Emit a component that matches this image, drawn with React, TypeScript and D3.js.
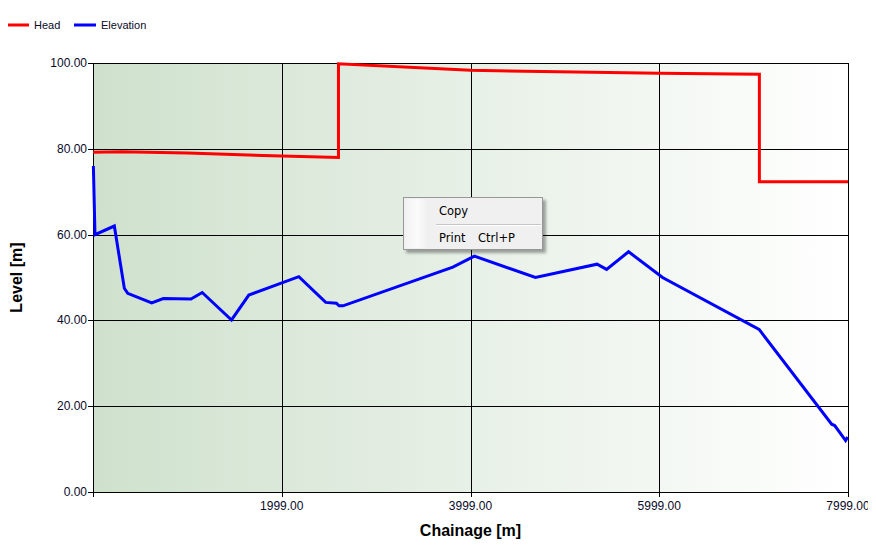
import React from "react";
import * as d3 from "d3";

const headChainage = [0, 300, 1000, 2000, 2600, 2600, 4000, 6000, 7060, 7060, 7999];
const headLevel = [79.2, 79.3, 79.0, 78.3, 78.0, 99.8, 98.3, 97.6, 97.4, 72.3, 72.3];

const elevChainage = [3, 20, 225, 331, 367, 621, 744, 1037, 1156, 1467, 1650, 2180, 2465, 2578, 2606, 2648, 3812, 4040, 4687, 5340, 5441, 5674, 6034, 7057, 7826, 7858, 7974, 7995];
const elevLevel = [76.0, 60.0, 62.0, 47.5, 46.3, 44.1, 45.1, 45.0, 46.5, 40.1, 45.9, 50.2, 44.2, 44.0, 43.4, 43.4, 52.4, 55.0, 50.0, 53.1, 51.9, 56.0, 50.0, 37.9, 15.8, 15.5, 12.0, 12.8];

const xTicks = [1999, 3999, 5999, 7999];
const yTicks = [0, 20, 40, 60, 80, 100];

const seriesNames = ["Head", "Elevation"];
const seriesColors = ["#ff0000", "#0000ff"];

export default function App() {
  const W = 876, H = 551;
  const L = 93, R = 848, T = 63, B = 492;
  const x = d3.scaleLinear().domain([-1, 7999]).range([L, R]);
  const y = d3.scaleLinear().domain([0, 100]).range([B, T]);
  const line = d3.line<[number, number]>().x(d => x(d[0])).y(d => y(d[1]));
  const headPts = headChainage.map((c, i) => [c, headLevel[i]] as [number, number]);
  const elevPts = elevChainage.map((c, i) => [c, elevLevel[i]] as [number, number]);
  const font = "'Liberation Sans', Arial, sans-serif";
  const labelColor = "#0a0a28";

  return (
    <div style={{ margin: -8, width: W, height: H }}>
      <svg width={W} height={H} style={{ display: "block", background: "#fff" }}>
        <defs>
          <linearGradient id="bg" x1="0" x2="1" y1="0" y2="0">
            <stop offset="0" stopColor="#cfe1cd" />
            <stop offset="1" stopColor="#ffffff" />
          </linearGradient>
          <linearGradient id="strip" x1="0" x2="1" y1="0" y2="0">
            <stop offset="0" stopColor="#f2f2f2" />
            <stop offset="0.5" stopColor="#fbfbfb" />
            <stop offset="1" stopColor="#eeeeee" />
          </linearGradient>
          <filter id="sh" x="-10%" y="-10%" width="130%" height="140%">
            <feDropShadow dx="3" dy="3" stdDeviation="1.5" floodColor="#000" floodOpacity="0.35" />
          </filter>
        </defs>
        {/* Legend */}
        {seriesNames.map((n, i) => (
          <g key={n} transform={`translate(${7 + i * 67},25)`}>
            <line x1={0} x2={22} y1={0} y2={0} stroke={seriesColors[i]} strokeWidth={3} />
            <text x={27} y={4} fontSize={11} fontFamily={font} fill={labelColor}>{n}</text>
          </g>
        ))}
        {/* plot background */}
        <rect x={L} y={T} width={R - L} height={B - T} fill="url(#bg)" />
        {/* grid */}
        {yTicks.map(t => (
          <line key={"gy" + t} x1={L} x2={R} y1={Math.round(y(t)) + 0.5} y2={Math.round(y(t)) + 0.5} stroke="#000" strokeWidth={1} />
        ))}
        {xTicks.map(t => (
          <line key={"gx" + t} x1={Math.round(x(t)) + 0.5} x2={Math.round(x(t)) + 0.5} y1={T} y2={B} stroke="#000" strokeWidth={1} />
        ))}
        {/* axes */}
        <line x1={L + 0.5} x2={L + 0.5} y1={T} y2={B + 5} stroke="#000" />
        <line x1={L - 5} x2={R} y1={B + 0.5} y2={B + 0.5} stroke="#000" />
        {yTicks.map(t => (
          <g key={"ty" + t}>
            <line x1={L - 5} x2={L} y1={Math.round(y(t)) + 0.5} y2={Math.round(y(t)) + 0.5} stroke="#000" />
            <text x={L - 6} y={y(t) + 4} fontSize={12} textAnchor="end" fontFamily={font} fill={labelColor}>{t.toFixed(2)}</text>
          </g>
        ))}
        {xTicks.map(t => (
          <g key={"tx" + t}>
            <line x1={Math.round(x(t)) + 0.5} x2={Math.round(x(t)) + 0.5} y1={B} y2={B + 5} stroke="#000" />
            <text x={x(t)} y={B + 18} fontSize={12} textAnchor="middle" fontFamily={font} fill={labelColor}>{t.toFixed(2)}</text>
          </g>
        ))}
        <text x={(L + R) / 2} y={536} fontSize={16} fontWeight="bold" textAnchor="middle" fontFamily={font} fill="#000">Chainage [m]</text>
        <text transform={`translate(22,${(T + B) / 2}) rotate(-90)`} fontSize={16} fontWeight="bold" textAnchor="middle" fontFamily={font} fill="#000">Level [m]</text>
        {/* series */}
        <path d={line(headPts) || ""} fill="none" stroke={seriesColors[0]} strokeWidth={3} strokeLinejoin="miter" />
        <path d={line(elevPts) || ""} fill="none" stroke={seriesColors[1]} strokeWidth={3} strokeLinejoin="miter" />
        {/* context menu */}
        <g>
          <rect x={403.5} y={197.5} width={139} height={52} fill="#f0f0f0" stroke="#979797" filter="url(#sh)" />
          <rect x={405} y={199} width={24} height={49} fill="url(#strip)" />
          <line x1={436} x2={541} y1={224.5} y2={224.5} stroke="#c5c5c5" />
          <line x1={436} x2={541} y1={225.5} y2={225.5} stroke="#ffffff" />
          <text x={439} y={215} fontSize={12} fontFamily="'DejaVu Sans', sans-serif" fill="#000" style={{ fontSize: 11.5 }}>Copy</text>
          <text x={439} y={242} fontSize={12} fontFamily="'DejaVu Sans', sans-serif" fill="#000" style={{ fontSize: 11.5 }}>Print</text>
          <text x={478} y={242} fontSize={12} fontFamily="'DejaVu Sans', sans-serif" fill="#000" style={{ fontSize: 11.5 }}>Ctrl+P</text>
        </g>
      </svg>
    </div>
  );
}
